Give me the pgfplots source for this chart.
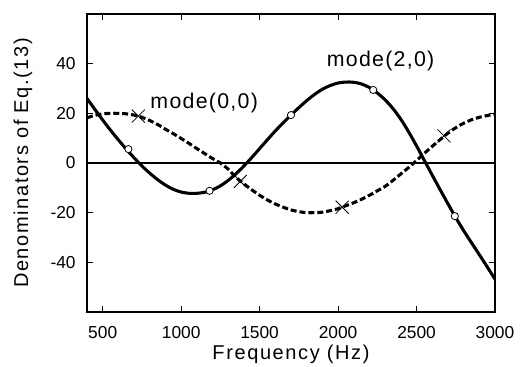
\documentclass[border=0pt]{standalone}
\usepackage{fontspec}
\setmainfont{Liberation Sans}
\newfontfamily\spaced[LetterSpace=8]{Liberation Sans}
\newfontfamily\spacedm[LetterSpace=6]{Liberation Sans}
\usepackage{pgfplots}
\pgfplotsset{compat=1.18}
\begin{document}
\begin{tikzpicture}
\begin{axis}[
  name=ax,
  scale only axis,
  width=306pt, height=223.5pt,
  xmin=400, xmax=3000, ymin=-60, ymax=60,
  xtick={500,1000,1500,2000,2500,3000},
  ytick={-40,-20,0,20,40},
  tick align=inside,
  major tick length=4.5pt,
  tick style={black, line width=0.6pt},
  axis line style={line width=1.3pt},
  /pgf/number format/assume math mode=true,
  /pgf/number format/set thousands separator={},
  tick label style={font=\fontsize{13}{15}\selectfont},
  xticklabel style={yshift=-7pt},
  yticklabel style={xshift=-5pt},
  xlabel={\spaced Frequency (Hz)},
  ylabel={\spaced Denominators of Eq.(13)},
  label style={font=\fontsize{15}{18}\selectfont},
  xlabel style={at={(axis description cs:0.5,-0.159)}, anchor=base},
  ylabel style={at={(axis description cs:-0.144,0.5)}, anchor=base},
  clip=true,
]
\addplot[black, line width=1pt, forget plot] coordinates {(400,0) (3000,0)};
% mode(0,0) dashed
\addplot[black, line width=2.3pt, dash pattern=on 4.5pt off 2.2pt, smooth] coordinates {
(400,18.2) (450,19.2) (500,19.8) (550,20) (600,20) (650,19.8) (700,19.3) (750,18.4)
(800,17.1) (850,15.5) (900,13.6) (950,11.8) (1000,9.9) (1050,7.9) (1100,5.8) (1150,3.8)
(1200,1.8) (1250,0) (1300,-2.5) (1350,-5.8) (1400,-8.4) (1450,-10.8) (1500,-13) (1550,-14.9)
(1600,-16.5) (1650,-17.8) (1700,-18.9) (1750,-19.6) (1800,-20) (1850,-20) (1900,-19.8)
(1950,-19.2) (2000,-18.4) (2050,-17.2) (2100,-16) (2150,-14.6) (2200,-13) (2250,-11.2)
(2300,-9.4) (2350,-7.0) (2400,-4.4) (2450,-1.8) (2500,1.0) (2550,3.9) (2600,6.7) (2650,9.4)
(2700,12) (2750,14.2) (2800,16) (2850,17.4) (2900,18.4) (2950,19.1) (3000,19.6)};
% mode(2,0) solid
\addplot[black, line width=2.3pt, smooth] coordinates {
(400,26) (450,21.6) (500,17.3) (550,13.2) (600,9.3) (650,5.6) (700,2.1) (750,-1.2)
(800,-4.1) (850,-6.7) (900,-8.9) (950,-10.6) (1000,-11.7) (1050,-12.2) (1100,-12.2)
(1150,-11.8) (1200,-10.8) (1250,-9.2) (1300,-7.0) (1350,-4.3) (1400,-1.2) (1450,2.2)
(1500,5.8) (1550,9.4) (1600,12.9) (1650,16.2) (1700,19.3) (1750,22.3) (1800,25.1)
(1850,27.6) (1900,29.7) (1950,31.2) (2000,32.2) (2050,32.6) (2100,32.5) (2150,31.8)
(2200,30.4) (2250,28.2) (2300,25.4) (2350,21.9) (2400,17.6) (2450,12.5) (2500,6.9)
(2550,1.0) (2600,-4.9) (2650,-10.7) (2700,-16.4) (2750,-22.0) (2800,-27.2) (2850,-32.1)
(2900,-36.9) (2950,-41.8) (3000,-46.8)};
% markers
\addplot[only marks, mark=x, mark size=6.9pt, mark options={line width=0.6pt, black}]
 coordinates {(727,18.9) (1377,-7.4) (2026,-17.8) (2675,10.9)};
\addplot[only marks, mark=*, mark size=2.7pt, mark options={fill=white, draw=black, line width=0.6pt}]
 coordinates {(664,5.6) (1181,-11.2) (1700,19.3) (2224,29.4) (2744,-21.4)};
\node[font=\spacedm\fontsize{16}{19}\selectfont] at (axis cs:1147,24) {mode(0,0)};
\node[font=\spacedm\fontsize{16}{19}\selectfont] at (axis cs:2271,40.9) {mode(2,0)};
\end{axis}
\pgfresetboundingbox
\path[use as bounding box] ([xshift=-65.25pt,yshift=-41.25pt]ax.south west) rectangle ([xshift=19.5pt,yshift=10.5pt]ax.north east);
\end{tikzpicture}
\end{document}
